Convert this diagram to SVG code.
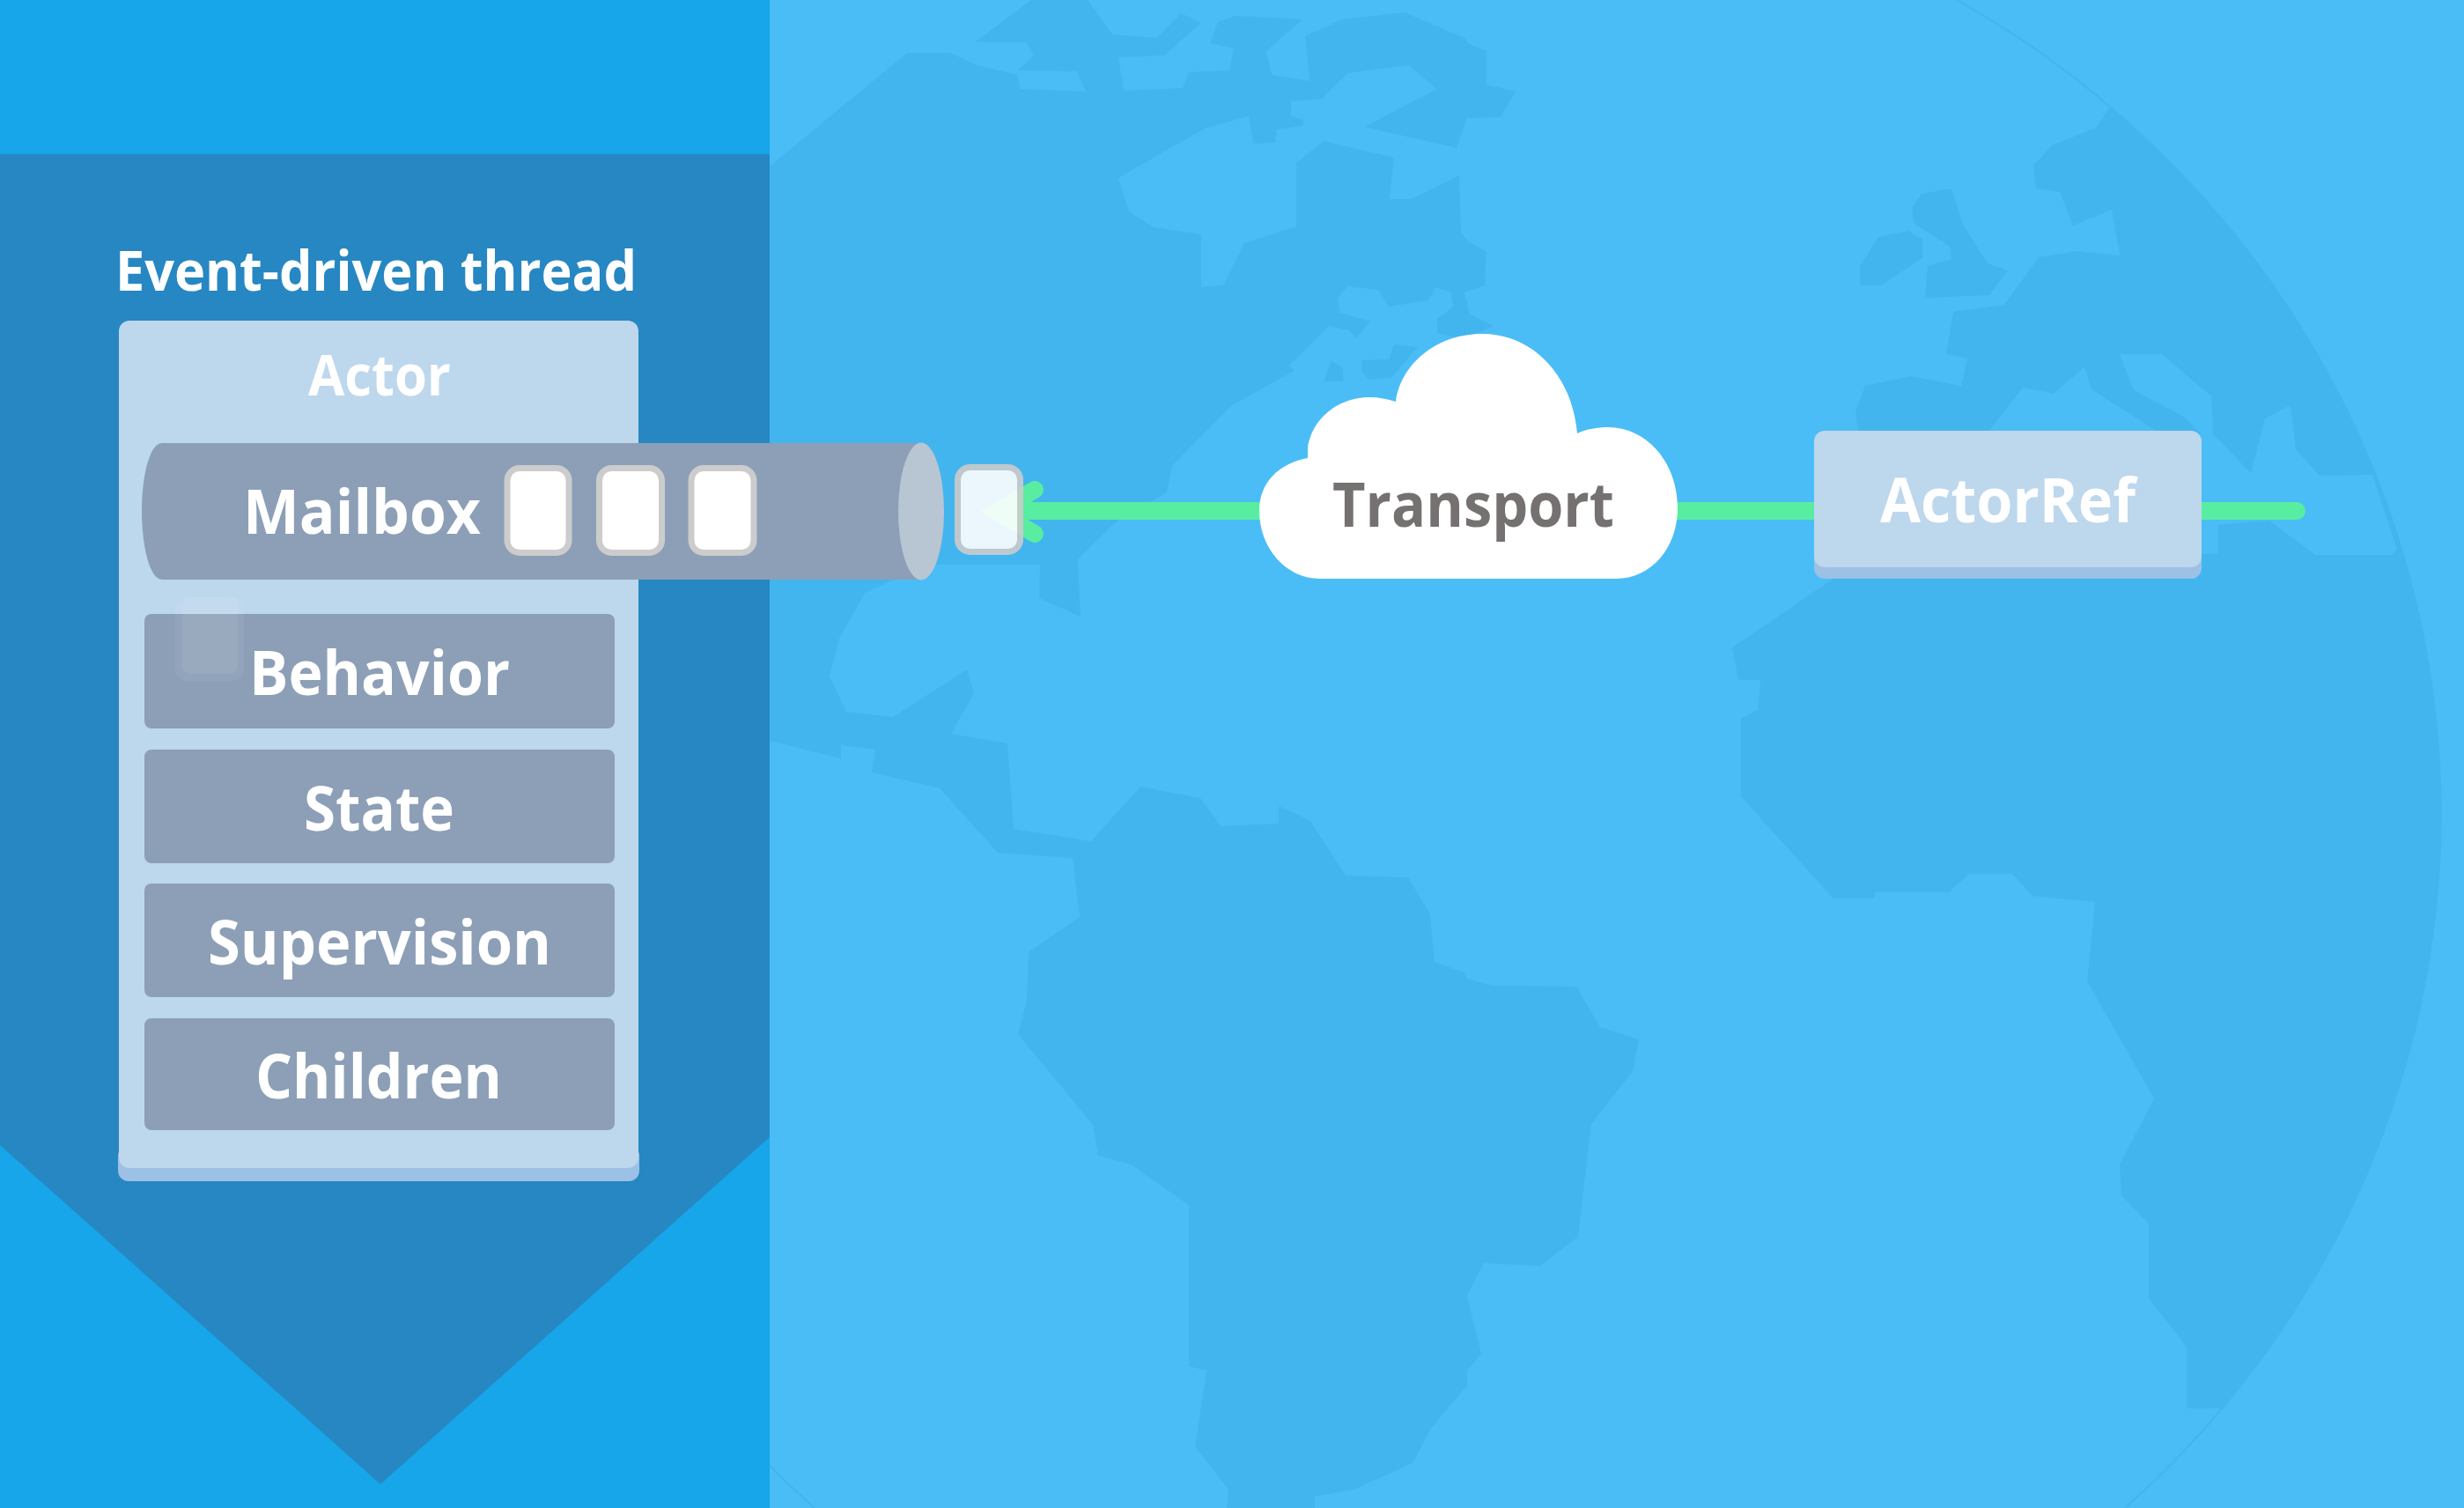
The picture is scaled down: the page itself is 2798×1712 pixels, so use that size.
<svg xmlns="http://www.w3.org/2000/svg" width="2798" height="1712" viewBox="0 0 2798 1712">
<style>
.t{font-family:"Open Sans","Noto Sans",sans-serif;font-weight:700;fill:#fff;text-anchor:start}
.item{fill:#8c9fb7}
.msg{fill:#fff;stroke:#ccc;stroke-width:7}
.under{fill:#9dc0e5}
.card{fill:#bdd7ed}
.wire{fill:none;stroke:#58eda0;stroke-width:20;stroke-linecap:round;stroke-linejoin:miter;stroke-miterlimit:6}
.rim{fill:none;stroke:#43b5ee;stroke-width:2}
</style>
<defs>
<clipPath id="globe"><ellipse cx="1669" cy="924" rx="1103" ry="1068"/></clipPath>
</defs>
<rect width="2798" height="1712" fill="#4abdf7"/>
<g id="world">
<g clip-path="url(#globe)">
<path fill="#43b5ee" fill-rule="evenodd" d="M870,192 1030,60 1079,60 1110,74 1155,85 1159,101 1233,104 1223,81 1156,80 1174,63 1165,48 1107,48 1171,0 1235,0 1263,39 1313,43 1341,15 1364,26 1322,63 1270,65 1276,103 1343,100 1350,82 1396,80 1401,55 1374,49 1383,25 1402,18 1479,22 1438,58 1444,85 1487,92 1482,41 1524,22 1595,14 1663,43 1667,49 1688,58 1688,96 1721,104 1704,133 1666,134 1654,168 1549,144 1632,101 1599,74 1530,83 1501,112 1466,115 1466,131 1481,137 1479,143 1450,147 1448,162 1423,163 1418,132 1368,146 1270,202 1282,240 1310,258 1364,266 1364,326 1390,323 1413,276 1472,257 1472,185 1503,160 1583,179 1578,226 1602,226 1657,199 1659,264 1666,273 1688,286 1686,324 1663,332 1669,357 1696,370 1660,385 1632,378 1632,362 1650,348 1648,332 1630,326 1622,341 1577,348 1565,329 1530,325 1519,339 1522,355 1556,365 1540,384 1532,375 1509,370 1464,415 1470,421 1399,460 1331,529 1325,559 1270,590 1224,635 1227,700 1180,679 1181,641 1063,641 1015,658 982,673 953,725 942,768 961,808 1014,814 1098,760 1106,787 1080,833 1144,844 1151,941 1239,955 1295,893 1363,906 1386,938 1452,935 1452,915 1488,932 1528,994 1599,996 1624,1038 1629,1092 1663,1104 1666,1111 1694,1119 1790,1120 1817,1166 1861,1180 1854,1216 1807,1276 1792,1404 1749,1437 1685,1434 1666,1471 1682,1537 1666,1556 1666,1573 1626,1620 1604,1661 1538,1691 1493,1699 1493,1712 1393,1712 1395,1691 1357,1642 1370,1556 1350,1551 1350,1368 1284,1322 1247,1312 1241,1277 1156,1174 1166,1136 1168,1081 1226,1041 1218,974 1133,968 1067,895 990,877 994,851 955,846 955,861 870,840 800,800 800,192Z
M1503,433 1512,409 1525,418 1525,433Z
M1546,409 1577,408 1583,391 1610,394 1595,411 1581,428 1555,431 1546,422Z
M2171,236 2182,220 2216,214 2229,255 2257,299 2280,307 2259,335 2186,338 2189,301 2216,295 2214,280 2173,253Z
M2112,302 2133,269 2167,262 2183,272 2183,293 2136,324 2112,324Z
M2395,123 2380,145 2330,165 2309,188 2312,214 2339,218 2354,256 2398,238 2407,290 2358,285 2315,292 2276,346 2218,354 2210,402 2234,407 2227,438 2169,427 2118,438 2107,467 2110,489 2080,658 2000,713 1967,735 1974,772 1999,772 1996,806 1977,815 1977,904 2000,930 2082,1020 2128,1020 2130,1013 2213,1013 2236,992 2285,992 2308,1017 2379,1024 2370,1114 2446,1247 2407,1322 2409,1357 2440,1389 2440,1474 2483,1529 2483,1599 2524,1599 2798,1599 2798,100Z
M2259,489 2297,440 2332,447 2367,417 2375,442 2448,489 2448,560 2259,560Z
M2407,402 2455,402 2511,450 2513,493 2556,537 2572,475 2601,460 2607,510 2634,540 2694,539 2722,624 2716,630 2629,630 2577,591 2519,596 2519,629 2480,629 2480,500 2500,494 2480,473 2423,443Z"/>
</g>
<path class="rim" d="M2222,0A1103,1068 0 0 1 2413,1712"/>
<path class="rim" d="M925,1712A1103,1068 0 0 1 866,1656"/>
</g>
<g id="thread">
<rect x="0" y="0" width="874" height="1712" fill="#16a6e9"/>
<path d="M0,175H874V1291L432,1685 0,1300Z" fill="#2787c2"/>
<text class="t" x="131" y="330" font-size="63" textLength="592" lengthAdjust="spacingAndGlyphs">Event-driven thread</text>
</g>
<g id="actor">
<rect class="under" x="134" y="1300" width="592" height="41" rx="12"/>
<rect class="card" x="135" y="364" width="590" height="962" rx="12"/>
<text class="t" x="350" y="449" font-size="64" textLength="162" lengthAdjust="spacingAndGlyphs">Actor</text>
</g>
<g id="behavior">
<rect class="item" x="164" y="697" width="534" height="130" rx="8"/>
<text class="t" x="283" y="789" font-size="70" textLength="296" lengthAdjust="spacingAndGlyphs">Behavior</text>
</g>
<g id="state">
<rect class="item" x="164" y="851" width="534" height="129" rx="8"/>
<text class="t" x="345" y="943" font-size="70" textLength="171" lengthAdjust="spacingAndGlyphs">State</text>
</g>
<g id="supervision">
<rect class="item" x="164" y="1003" width="534" height="129" rx="8"/>
<text class="t" x="236" y="1095" font-size="70" textLength="390" lengthAdjust="spacingAndGlyphs">Supervision</text>
</g>
<g id="children">
<rect class="item" x="164" y="1156" width="534" height="127" rx="8"/>
<text class="t" x="290" y="1247" font-size="70" textLength="280" lengthAdjust="spacingAndGlyphs">Children</text>
</g>
<g id="ghost-message">
<rect x="199" y="678" width="78" height="95" rx="14" fill="#fff" opacity=".06"/>
<rect x="207" y="678" width="63" height="87" rx="10" fill="#fff" opacity=".07"/>
</g>
<g id="connectors">
<path class="wire" d="M1133,580H2608"/>
<path class="wire" d="M1175,556 1133,581 1175,606"/>
</g>
<g id="mailbox">
<path d="M184,503H1046V658H184C170,658 161,620 161,580 161,540 170,503 184,503Z" fill="#8c9fb7"/>
<ellipse cx="1046" cy="580.5" rx="26" ry="78" fill="#b8c5d2"/>
<text class="t" x="276" y="606" font-size="70" textLength="270" lengthAdjust="spacingAndGlyphs">Mailbox</text>
<rect class="msg" x="576" y="531.5" width="70" height="96" rx="14"/>
<rect class="msg" x="680.5" y="531.5" width="71" height="96" rx="14"/>
<rect class="msg" x="785" y="531.5" width="71" height="96" rx="14"/>
</g>
<g id="message" opacity=".9">
<rect class="msg" x="1087.5" y="530.5" width="71" height="96" rx="14"/>
</g>
<g id="transport">
<path d="M1499,657C1460,657 1430,622 1430,580 1430,548 1452,526 1485,520V508C1490,475 1520,451 1555,451 1566,451 1576,453 1585,456 1590,415 1630,379 1683,379 1740,379 1785,425 1791,492 1802,487 1814,485 1826,485 1870,485 1905,525 1905,577 1905,622 1875,657 1835,657Z" fill="#fff"/>
<text class="t" x="1513" y="598" font-size="70" textLength="320" lengthAdjust="spacingAndGlyphs" style="fill:#767171">Transport</text>
</g>
<g id="actorref">
<rect class="under" x="2060" y="600" width="440" height="57" rx="12"/>
<rect class="card" x="2060" y="489" width="440" height="155" rx="12"/>
<text class="t" x="2135" y="593" font-size="70" textLength="290" lengthAdjust="spacingAndGlyphs">ActorRef</text>
</g>
</svg>
